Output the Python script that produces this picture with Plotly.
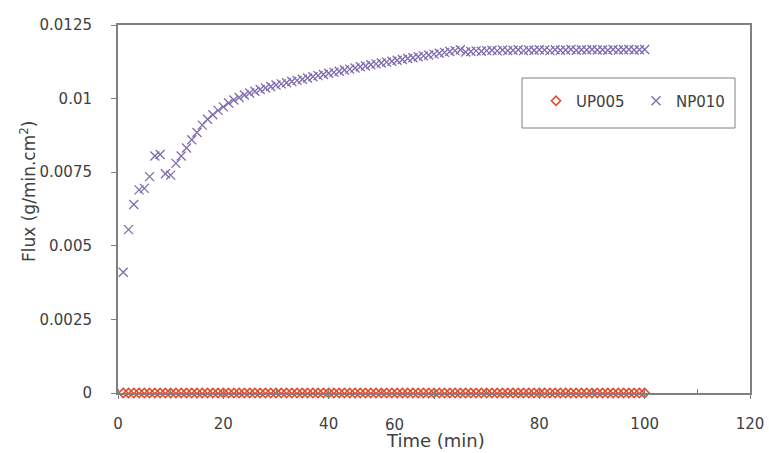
import plotly.graph_objects as go

time_np010 = list(range(1, 101))
flux_np010 = [
    0.00410, 0.00555, 0.00640, 0.00690, 0.00695, 0.00735, 0.00805, 0.00810, 0.00745, 0.00740,
    0.00780, 0.00805, 0.00832, 0.00860, 0.00885, 0.00910, 0.00930, 0.00945, 0.00960, 0.00972,
    0.00985, 0.00995, 0.01004, 0.01012, 0.01019, 0.01025, 0.01031, 0.01036, 0.01041, 0.01046,
    0.01050, 0.01054, 0.01058, 0.01062, 0.01066, 0.01070, 0.01074, 0.01078, 0.01082, 0.01086,
    0.01089, 0.01093, 0.01097, 0.01100, 0.01104, 0.01108, 0.01111, 0.01115, 0.01118, 0.01121,
    0.01124, 0.01127, 0.01130, 0.01133, 0.01136, 0.01139, 0.01142, 0.01145, 0.01148, 0.01151,
    0.01154, 0.01157, 0.01160, 0.01163, 0.01166, 0.01158, 0.01160, 0.01162, 0.01161, 0.01163,
    0.01164, 0.01162, 0.01165, 0.01163, 0.01164, 0.01166, 0.01163, 0.01165, 0.01164, 0.01166,
    0.01165, 0.01163, 0.01166, 0.01164, 0.01165, 0.01167, 0.01164, 0.01166, 0.01165, 0.01167,
    0.01165, 0.01166, 0.01164, 0.01167, 0.01165, 0.01166, 0.01167, 0.01165, 0.01166, 0.01167,
]

time_up005 = list(range(1, 101))
flux_up005 = [0.0] * 100

x_ticks = [0, 20, 40, 60, 80, 100, 120]
x_tick_labels = ["0", "20", "40", "", "80", "100", "120"]  # "60" is drawn shifted, as in the source
label_60_pos = 52.5
y_ticks = [0, 0.0025, 0.005, 0.0075, 0.01, 0.0125]
y_tick_labels = ["0", "0.0025", "0.005", "0.0075", "0.01", "0.0125"]

FONT = "DejaVu Sans"
TXT = "#404040"
L, R, T, B = 118, 19, 25, 60
PW, PH = 769 - L - R, 453 - T - B


def px_x(p):
    return (p - L) / PW


def px_y(p):
    return (453 - B - p) / PH


fig = go.Figure()
fig.add_trace(go.Scatter(
    x=time_up005, y=flux_up005, name="UP005", mode="markers",
    marker=dict(symbol="diamond-open", size=7, color="#E5482C", line=dict(width=1.6, color="#E5482C")),
    cliponaxis=False,
))
fig.add_trace(go.Scatter(
    x=time_np010, y=flux_np010, name="NP010", mode="markers",
    marker=dict(symbol="x-thin-open", size=9, color="#7E6BAE", line=dict(width=1.3, color="#7E6BAE")),
    cliponaxis=False,
))

fig.update_layout(
    width=769, height=453,
    margin=dict(l=L, r=R, t=T, b=B, autoexpand=False),
    paper_bgcolor="white", plot_bgcolor="white",
    font=dict(family=FONT, size=15, color=TXT),
    showlegend=True,
    legend=dict(
        orientation="h", x=px_x(536), y=px_y(101), xanchor="left", yanchor="middle",
        borderwidth=0, bgcolor="rgba(0,0,0,0)",
        font=dict(family=FONT, size=15, color=TXT),
        itemsizing="trace", entrywidth=55, itemwidth=30,
    ),
    shapes=[
        dict(type="rect", xref="paper", yref="paper",
             x0=px_x(522), x1=px_x(735), y0=px_y(128), y1=px_y(78),
             line=dict(color="#808080", width=1), fillcolor="white", layer="below"),
    ],
    xaxis=dict(
        range=[0, 120], tickvals=x_ticks, ticktext=x_tick_labels, automargin=False,
        showgrid=False, zeroline=False, showline=True, linecolor="#808080", linewidth=2,
        mirror=True, ticks="outside", ticklen=4, tickcolor="#808080",
        minor=dict(dtick=10, ticks="inside", ticklen=4, tickcolor="#808080"),
        tickfont=dict(family=FONT, size=15, color=TXT),
        ticklabelstandoff=12,
    ),
    yaxis=dict(
        range=[0, 0.0125], tickvals=y_ticks, ticktext=y_tick_labels, automargin=False,
        showgrid=False, zeroline=False, showline=True, linecolor="#808080", linewidth=2,
        mirror=True, ticks="outside", ticklen=5, tickcolor="#808080",
        tickfont=dict(family=FONT, size=15, color=TXT),
        ticklabelstandoff=16,
    ),
    annotations=[
        dict(text="60", xref="x", yref="paper", x=label_60_pos, y=px_y(425),
             xanchor="center", yanchor="middle", showarrow=False,
             font=dict(family=FONT, size=15, color=TXT)),
        dict(text="Time (min)", xref="paper", yref="paper", x=px_x(435), y=px_y(440),
             xanchor="center", yanchor="middle", showarrow=False,
             font=dict(family=FONT, size=18, color=TXT)),
        dict(text="Flux (g/min.cm<sup>2</sup>)", xref="paper", yref="paper",
             x=px_x(28), y=px_y(192), textangle=-90,
             xanchor="center", yanchor="middle", showarrow=False,
             font=dict(family=FONT, size=17, color=TXT)),
    ],
)

fig.write_html("out.html")
